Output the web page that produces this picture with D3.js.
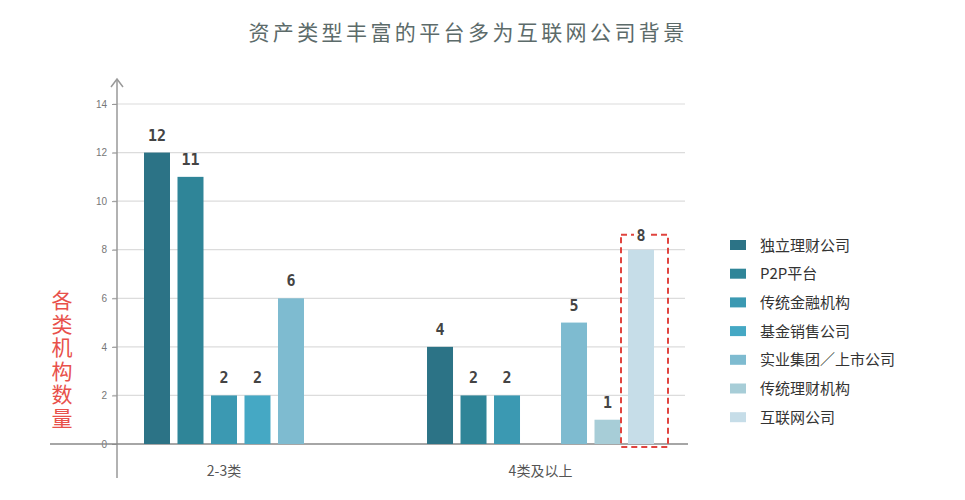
<!DOCTYPE html>
<html><head><meta charset="utf-8">
<script src="https://cdn.jsdelivr.net/npm/d3@7/dist/d3.min.js"></script>
<style>
html,body{margin:0;padding:0;background:#fff;}
svg{display:block;font-family:"Noto Sans CJK SC","Noto Sans",sans-serif;}
</style></head>
<body>
<svg id="c" width="965" height="500"></svg>
<script>
const title = "资产类型丰富的平台多为互联网公司背景";
const yTitle = "各类机构数量";
const groups = ["2-3类", "4类及以上"];
const series = ["独立理财公司", "P2P平台", "传统金融机构", "基金销售公司", "实业集团／上市公司", "传统理财机构", "互联网公司"];
const valuesGroup1 = [12, 11, 2, 2, 6, 0, 0];
const valuesGroup2 = [4, 2, 2, 0, 5, 1, 8];
const colors = ["#2c7386", "#2f8598", "#3b99b2", "#45a8c4", "#7ebbd0", "#a7cdd7", "#c6dde8"];
const yTicks = [0, 2, 4, 6, 8, 10, 12, 14];
const highlight = {group: "4类及以上", series: "互联网公司"};

const data = groups.map((g, gi) => ({group: g, values: series.map((s, si) => ({series: s, value: (gi === 0 ? valuesGroup1 : valuesGroup2)[si]}))}));

const svg = d3.select("#c");
const y = d3.scaleLinear().domain([0, 14]).range([444, 104]);
const x0 = d3.scaleBand().domain(groups).range([144, 654]).paddingInner(0.198).paddingOuter(0);
const x1 = d3.scaleBand().domain(series).range([0, x0.bandwidth()]).paddingInner(0.224).paddingOuter(0);
const color = d3.scaleOrdinal().domain(series).range(colors);

// title
svg.append("text").attr("x", 468).attr("y", 40).attr("text-anchor", "middle")
  .attr("font-size", 21).attr("letter-spacing", 3.4).attr("fill", "#5c6b6a").text(title);

// gridlines
svg.append("g").selectAll("line").data(yTicks.filter(d => d > 0)).join("line")
  .attr("x1", 113).attr("x2", 685).attr("y1", d => y(d)).attr("y2", d => y(d))
  .attr("stroke", "#dcdcdc").attr("stroke-width", 1.2);

// y axis
const yAxis = d3.axisLeft(y).tickValues(yTicks).tickSize(5).tickPadding(5);
const gy = svg.append("g").attr("transform", "translate(117,0)").call(yAxis);
gy.select(".domain").remove();
gy.selectAll(".tick line").attr("stroke", "#999");
gy.selectAll(".tick text").attr("fill", "#777").attr("font-size", 10).attr("font-family", "Liberation Sans, Arial, sans-serif");
svg.append("line").attr("x1", 117).attr("x2", 117).attr("y1", 80).attr("y2", 478).attr("stroke", "#999").attr("stroke-width", 1.5);
svg.append("path").attr("d", "M111,87 L117,79 L123,87").attr("fill", "none").attr("stroke", "#999").attr("stroke-width", 1.5);

// baseline
svg.append("line").attr("x1", 50).attr("x2", 688).attr("y1", y(0)).attr("y2", y(0)).attr("stroke", "#888").attr("stroke-width", 1.5);

// bars
const gg = svg.append("g").selectAll("g").data(data).join("g")
  .attr("transform", d => `translate(${x0(d.group)},0)`);
gg.selectAll("rect").data(d => d.values.filter(v => v.value > 0)).join("rect")
  .attr("x", d => x1(d.series)).attr("width", x1.bandwidth())
  .attr("y", d => y(d.value)).attr("height", d => y(0) - y(d.value))
  .attr("fill", d => color(d.series));

// highlight dashed box
const hx = x0(highlight.group) + x1(highlight.series);
const hv = data.find(d => d.group === highlight.group).values.find(v => v.series === highlight.series).value;
svg.append("rect").attr("x", hx - 7).attr("y", y(hv) - 15).attr("width", x1.bandwidth() + 21).attr("height", y(0) - y(hv) + 18)
  .attr("fill", "none").attr("stroke", "#e0443f").attr("stroke-width", 2).attr("stroke-dasharray", "6,4");
svg.append("rect").attr("x", hx + x1.bandwidth() / 2 - 7).attr("y", y(hv) - 24).attr("width", 14).attr("height", 18).attr("fill", "#fff");

// value labels (drawn above the box)
const lblG = svg.append("g").selectAll("g").data(data).join("g")
  .attr("transform", d => `translate(${x0(d.group)},0)`);
lblG.selectAll("text").data(d => d.values.filter(v => v.value > 0)).join("text")
  .attr("x", d => x1(d.series) + x1.bandwidth() / 2)
  .attr("y", d => (d.series === highlight.series ? y(d.value) - 9 : y(d.value) - 12))
  .attr("text-anchor", "middle").attr("font-size", 15).attr("font-weight", "bold")
  .attr("font-family", "DejaVu Sans Mono, monospace").attr("fill", "#444")
  .text(d => d.value);

// x labels, centered on the drawn bars of each group
lblG.append("text")
  .attr("x", d => { const v = d.values.filter(e => e.value > 0); return (x1(v[0].series) + x1(v[v.length - 1].series) + x1.bandwidth()) / 2; })
  .attr("y", 476).attr("text-anchor", "middle").attr("font-size", 14).attr("fill", "#555")
  .text(d => d.group);

// y title (vertical)
svg.append("text").attr("x", 62).attr("y", 290)
  .attr("writing-mode", "vertical-rl").attr("font-size", 21).attr("letter-spacing", 2.5)
  .attr("fill", "#e8514b").text(yTitle);

// legend
const lg = svg.append("g").selectAll("g").data(series).join("g")
  .attr("transform", (d, i) => `translate(730,${245 + i * 28.7})`);
lg.append("rect").attr("x", 0).attr("y", -5).attr("width", 16).attr("height", 10).attr("fill", d => color(d));
lg.append("text").attr("x", 30).attr("y", 5.5).attr("font-size", 15).attr("fill", "#333").text(d => d);
</script>
</body></html>
